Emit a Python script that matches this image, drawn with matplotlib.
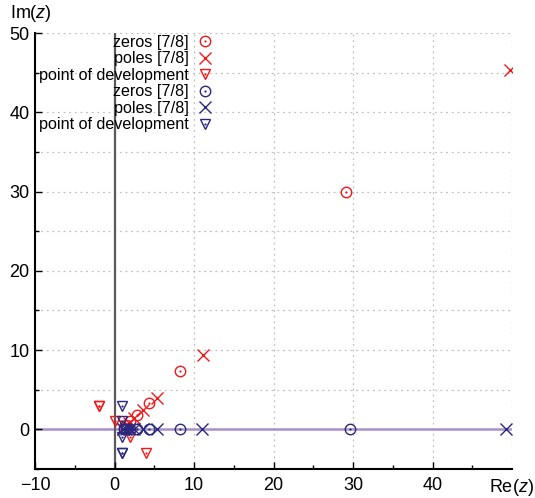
import matplotlib
matplotlib.use("Agg")
import matplotlib.pyplot as plt
from matplotlib.legend_handler import HandlerTuple

plt.rcParams['font.family'] = ['Liberation Sans', 'DejaVu Sans']
plt.rcParams['mathtext.fontset'] = 'custom'
plt.rcParams['mathtext.rm'] = 'Liberation Sans'
plt.rcParams['mathtext.it'] = 'Liberation Sans:italic'

# ---- data ----
red_zeros_re = [29.1, 8.2, 4.3, 2.8, 2.0, 1.5, 1.2]
red_zeros_im = [29.9, 7.3, 3.3, 1.8, 1.0, 0.5, 0.2]
red_poles_re = [49.7, 11.1, 5.3, 3.6, 2.5, 1.8, 1.4, 1.1]
red_poles_im = [45.3, 9.4, 4.0, 2.4, 1.4, 0.8, 0.4, 0.1]
red_dev_re = [-2.0, -2.0, 0.0, 2.0, 4.0]
red_dev_im = [3.0, 3.0, 1.0, -1.0, -3.0]

blue_zeros_re = [29.6, 8.3, 4.3, 2.8, 2.0, 1.5, 1.2]
blue_zeros_im = [0, 0, 0, 0, 0, 0, 0]
blue_poles_re = [49.2, 11.0, 5.3, 3.6, 2.5, 1.8, 1.4, 1.1]
blue_poles_im = [0, 0, 0, 0, 0, 0, 0, 0]
blue_dev_re = [1.0, 1.0, 1.0, 1.0, 1.0]
blue_dev_im = [3.0, 1.0, -1.0, -3.0, -3.0]

labels = ["zeros [7/8]", "poles [7/8]", "point of development",
          "zeros [7/8]", "poles [7/8]", "point of development"]

RED = '#f01818'
BLUE = '#282880'

fig = plt.figure(figsize=(5.35, 4.98), dpi=100)
ax = fig.add_axes([35/535, (498-469)/498, (512-35)/535, (469-33)/498])

ax.set_xlim(-10, 50)
ax.set_ylim(-5, 50)

# grid
for gx in [10, 20, 30, 40, 50]:
    ax.axvline(gx, color='#c0c0c0', lw=0.9, ls=(0, (1.5, 3)), zorder=0)
for gy in range(5, 51, 5):
    ax.axhline(gy, color='#c0c0c0', lw=0.9, ls=(0, (1.5, 3)), zorder=0)

ax.axhline(0, color='#a890c8', lw=1.8, zorder=1)
ax.axvline(0, color='#5a5a5a', lw=1.6, zorder=1)

ms_c = 7.5
ms_x = 8
ms_t = 7.5
mew = 1.0
dot = 1.6

def circ(xs, ys, c):
    a, = ax.plot(xs, ys, ls='none', marker='o', ms=ms_c, mfc='none', mec=c, mew=mew, zorder=3)
    b, = ax.plot(xs, ys, ls='none', marker='o', ms=dot, mfc=c, mec=c, mew=0, zorder=3)
    return (a, b)

def cross(xs, ys, c):
    a, = ax.plot(xs, ys, ls='none', marker='x', ms=ms_x, mec=c, mew=mew, zorder=3)
    return a

def tri(xs, ys, c):
    a, = ax.plot(xs, ys, ls='none', marker='v', ms=ms_t, mfc='none', mec=c, mew=mew, zorder=3)
    b, = ax.plot(xs, ys, ls='none', marker='o', ms=dot, mfc=c, mec=c, mew=0, zorder=3)
    return (a, b)

h1 = circ(red_zeros_re, red_zeros_im, RED)
h2 = cross(red_poles_re, red_poles_im, RED)
h3 = tri(red_dev_re, red_dev_im, RED)
h4 = circ(blue_zeros_re, blue_zeros_im, BLUE)
h5 = cross(blue_poles_re, blue_poles_im, BLUE)
h6 = tri(blue_dev_re, blue_dev_im, BLUE)

leg = ax.legend([h1, h2, h3, h4, h5, h6], labels, markerfirst=False,
                handler_map={tuple: HandlerTuple(ndivide=1, pad=0)},
                loc='upper right', bbox_to_anchor=(213/535, 1 - 35/498),
                bbox_transform=fig.transFigure, frameon=False, fontsize=11.6,
                handlelength=1.0, handletextpad=0.5, labelspacing=0.09,
                borderaxespad=0.0, borderpad=0.0)

ax.spines['top'].set_visible(False)
ax.spines['right'].set_visible(False)
ax.spines['left'].set_linewidth(1.5)
ax.spines['bottom'].set_linewidth(1.5)

ax.set_xticks([-10, 0, 10, 20, 30, 40])
ax.set_xticklabels(['\u221210', '0', '10', '20', '30', '40'])
ax.set_xticks(range(-5, 50, 5), minor=True)
ax.set_yticks([0, 10, 20, 30, 40, 50])
ax.set_yticks(range(-5, 50, 5), minor=True)
ax.tick_params(which='both', direction='in', labelsize=13, width=1.0)
ax.tick_params(which='major', length=5)
ax.tick_params(which='minor', length=3)
ax.tick_params(axis='x', pad=6)
ax.tick_params(axis='y', pad=4)

fig.text(10/535, 1 - 13/498, r'Im($z$)', fontsize=13, ha='left', va='center')
fig.text(534/535, 1 - 487/498, r'Re($z$)', fontsize=13, ha='right', va='center')

fig.savefig('out.png', dpi=100)
